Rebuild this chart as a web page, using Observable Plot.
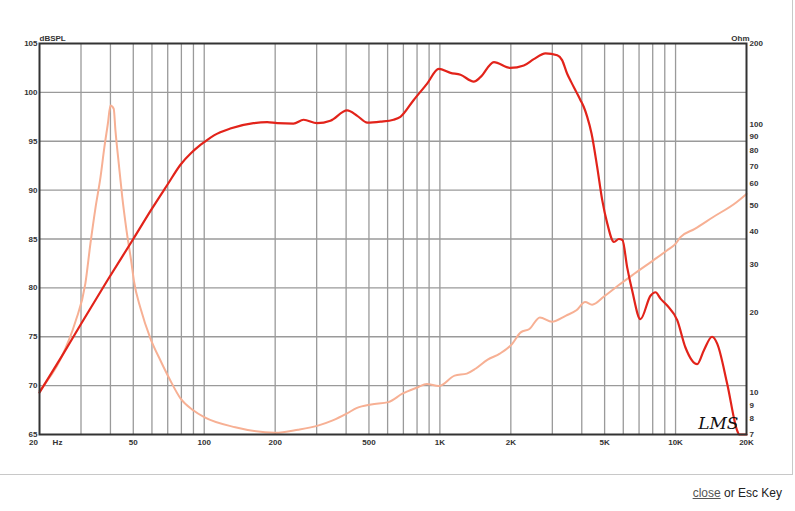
<!DOCTYPE html>
<html><head><meta charset="utf-8">
<script src="https://cdn.jsdelivr.net/npm/d3@7"></script>
<script src="https://cdn.jsdelivr.net/npm/@observablehq/plot@0.6"></script>
<style>
body{margin:0;background:#fff;font-family:"Liberation Sans",Arial,sans-serif;}
#box{width:792px;height:474px;border-right:1px solid #c8c8c8;border-bottom:1px solid #c8c8c8;position:relative;}
#box svg{display:block;}
#foot{position:absolute;top:486px;right:13px;font-size:12px;color:#222;font-family:"Liberation Sans",Arial,sans-serif;}
#foot a{color:#555;text-decoration:underline;}
</style></head>
<body><div id="box"></div><div id="foot"><a>close</a> or Esc Key</div>
<script>
// SPL response (Hz, dB)
const splFreq = [20,25,30,38.8,50,60,70,79.3,88,95,100,110,129,161.8,185,204,239,264,301,343,404,446,492,560,636,680,773,883,989,1109,1223,1393,1486,1695,1987,2270,2503,2806,3148,3300,3468,3600,3800,3950,4080,4218,4400,4651,4883,5130,5477,5746,5950,6233,6548,7096,7828,8222,8630,9216,10163,11015,12354,13180,14290,15020,16560,18260,18600,20000];
const splDb   = [69.3,73.1,76.3,80.75,85.0,88.1,90.6,92.6,93.8,94.5,94.9,95.6,96.3,96.85,96.95,96.85,96.8,97.2,96.85,97.1,98.15,97.6,96.9,97.0,97.2,97.5,99.2,100.9,102.4,102.0,101.8,101.1,101.55,103.1,102.5,102.75,103.4,104.0,103.8,103.3,101.9,101.1,100.0,99.2,98.5,97.5,95.8,92.35,89.0,86.6,84.7,85.0,84.9,82.1,79.7,76.8,79.2,79.55,78.9,78.2,76.7,73.9,72.2,73.6,75.0,74.3,70.2,65.4,65,65];
// Impedance (Hz, Ohm)
const impFreq = [20,24.6,28.4,31.3,32.9,34.6,36.3,37.7,39.0,40.0,41.3,42.0,43.4,44.9,46.8,49.2,50.3,53.7,59.2,65.2,71.9,79.3,90.1,100,135.4,200,250,306,351,402,445,511,605,693,807,879,990,1155,1301,1416,1595,1796,2023,2203,2398,2656,2990,3429,3796,4134,4425,4985,5708,6539,8018,9187,9995,10495,12066,14400,18143,20000];
const impOhm  = [10.2,13.4,18.4,25.5,36.0,49.2,63.6,82.2,100.5,117.5,114.3,94.9,71.3,53.6,40.3,30.2,26.2,20.6,15.9,13.2,11.1,9.54,8.6,8.12,7.45,7.1,7.29,7.57,7.9,8.37,8.8,9.06,9.24,9.93,10.5,10.8,10.6,11.6,11.8,12.3,13.3,14.0,15.2,16.8,17.3,19.1,18.4,19.4,20.3,21.8,21.3,22.9,25.1,27.4,31.1,33.9,35.9,38.0,40.8,45.1,51.3,55.1];

const gridFreqs = [30,40,50,60,70,80,90,100,200,300,400,500,600,700,800,900,1000,2000,3000,4000,5000,6000,7000,8000,9000,10000];
const freqLabels = [50,100,200,500,1000,2000,5000,10000,20000];
const freqLabelText = ["50","100","200","500","1K","2K","5K","10K","20K"];
const dbTicks = [65,70,75,80,85,90,95,100,105];
const dbGrid = [70,75,80,85,90,95,100];
const ohmTicks = [7,8,9,10,20,30,40,50,60,70,80,90,100,200];

const OHM_MIN = 7, OHM_MAX = 200, DB_MIN = 65, DB_MAX = 105;
const ohmToY = o => DB_MIN + (DB_MAX - DB_MIN) * Math.log(o / OHM_MIN) / Math.log(OHM_MAX / OHM_MIN);
const yToOhm = y => OHM_MIN * Math.pow(OHM_MAX / OHM_MIN, (y - DB_MIN) / (DB_MAX - DB_MIN));

const spl = splFreq.map((f, i) => ({f, v: splDb[i]}));
const imp = impFreq.map((f, i) => ({f, v: ohmToY(impOhm[i])}));
const xLabels = freqLabels.map((f, i) => ({f, t: freqLabelText[i]}));

const chart = Plot.plot({
  width: 792, height: 474,
  marginLeft: 39, marginRight: 46, marginTop: 43, marginBottom: 40,
  style: {fontFamily: "Liberation Sans, Arial, sans-serif", fontSize: "8px", fontWeight: "bold", color: "#333", background: "#fff"},
  x: {type: "log", domain: [20, 20000], axis: null},
  y: {domain: [DB_MIN, DB_MAX], axis: null},
  marks: [
    Plot.gridX(gridFreqs, {stroke: "#9a9a9a", strokeOpacity: 1, strokeWidth: 1.3}),
    Plot.gridY(dbGrid, {stroke: "#9a9a9a", strokeOpacity: 1, strokeWidth: 1.3}),
    Plot.line(imp, {x: "f", y: "v", stroke: "#f7b094", strokeWidth: 2, curve: "monotone-x"}),
    Plot.line(spl, {x: "f", y: "v", stroke: "#e2231a", strokeWidth: 2.2, curve: "monotone-x"}),
    Plot.frame({stroke: "#333", strokeWidth: 2}),
    Plot.text(xLabels, {x: "f", text: "t", frameAnchor: "bottom", lineAnchor: "top", dy: 5, fill: "#333"}),
    Plot.text([20], {x: d => d, frameAnchor: "bottom", lineAnchor: "top", dy: 5, dx: -6, text: () => "20", fill: "#333"}),
    Plot.text([20], {x: d => d, frameAnchor: "bottom", lineAnchor: "top", dy: 5, dx: 18, text: () => "Hz", fill: "#333"}),
    Plot.axisY(dbTicks, {anchor: "left", tickSize: 0, tickPadding: 2, label: null}),
    Plot.axisY(ohmTicks.map(ohmToY), {anchor: "right", tickSize: 0, tickPadding: 3, label: null, tickFormat: d => String(Math.round(yToOhm(d)))}),
    Plot.text(["dBSPL"], {frameAnchor: "top-left", textAnchor: "start", lineAnchor: "bottom", dy: -3, text: d => d, fill: "#333"}),
    Plot.text(["Ohm"], {frameAnchor: "top-right", textAnchor: "end", lineAnchor: "bottom", dy: -3, dx: 3, text: d => d, fill: "#333"}),
    Plot.text(["LMS"], {frameAnchor: "bottom-right", textAnchor: "end", lineAnchor: "bottom", dx: -8, dy: -6, text: d => d, fontSize: 17, fontStyle: "italic", fontWeight: "normal", fontFamily: "DejaVu Serif, serif", fill: "#111"})
  ]
});
document.getElementById("box").appendChild(chart);
</script>
</body></html>
